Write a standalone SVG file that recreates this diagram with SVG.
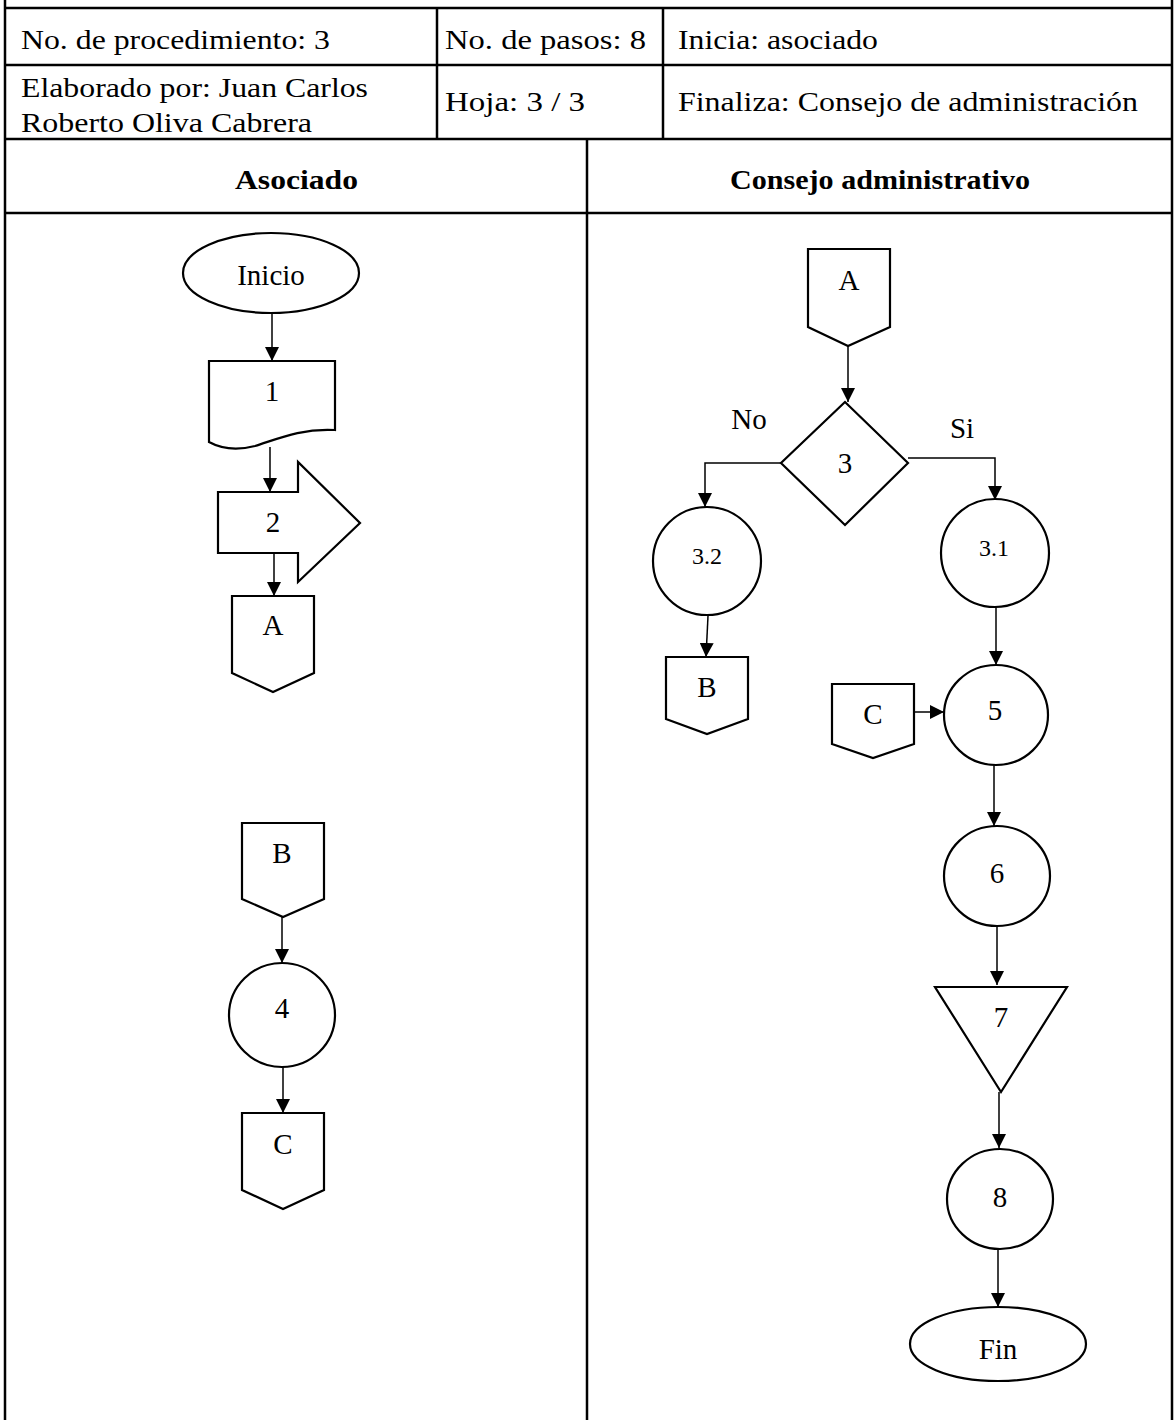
<svg xmlns="http://www.w3.org/2000/svg" width="1175" height="1420" viewBox="0 0 1175 1420">
<style>
.tbl{stroke:#000;stroke-width:2.5;fill:none}
.shape{fill:#fff;stroke:#000;stroke-width:2.2}
.conn{fill:none;stroke:#000;stroke-width:1.5}
.ht{font-family:"Liberation Serif","Times New Roman",serif;font-size:27px;fill:#000}
.hb{font-family:"Liberation Serif","Times New Roman",serif;font-size:27px;font-weight:bold;fill:#000}
.lb{font-family:"Liberation Serif","Times New Roman",serif;font-size:29px;fill:#000;text-anchor:middle}
.sm{font-family:"Liberation Serif","Times New Roman",serif;font-size:24px;fill:#000;text-anchor:middle}
</style>
<defs>
<marker id="arr" markerUnits="userSpaceOnUse" markerWidth="14" markerHeight="14" refX="14" refY="7" orient="auto">
<path d="M0,0 L14,7 L0,14 Z" fill="#000"/>
</marker>
</defs>
<rect width="1175" height="1420" fill="#fff"/>

<g id="table">
<line class="tbl" x1="5" y1="0" x2="5" y2="1420"/>
<line class="tbl" x1="1172" y1="0" x2="1172" y2="1420"/>
<line class="tbl" x1="4" y1="8" x2="1173" y2="8"/>
<line class="tbl" x1="4" y1="65" x2="1173" y2="65"/>
<line class="tbl" x1="4" y1="139" x2="1173" y2="139"/>
<line class="tbl" x1="4" y1="213" x2="1173" y2="213"/>
<line class="tbl" x1="437" y1="8" x2="437" y2="139"/>
<line class="tbl" x1="663" y1="8" x2="663" y2="139"/>
<line class="tbl" x1="587" y1="139" x2="587" y2="1420"/>
<text class="ht" x="21" y="49" textLength="309" lengthAdjust="spacingAndGlyphs">No. de procedimiento: 3</text>
<text class="ht" x="445" y="49" textLength="201" lengthAdjust="spacingAndGlyphs">No. de pasos: 8</text>
<text class="ht" x="678" y="49" textLength="200" lengthAdjust="spacingAndGlyphs">Inicia: asociado</text>
<text class="ht" x="21" y="97" textLength="347" lengthAdjust="spacingAndGlyphs">Elaborado por: Juan Carlos</text>
<text class="ht" x="21" y="132" textLength="291" lengthAdjust="spacingAndGlyphs">Roberto Oliva Cabrera</text>
<text class="ht" x="445" y="111" textLength="140" lengthAdjust="spacingAndGlyphs">Hoja: 3 / 3</text>
<text class="ht" x="678" y="111" textLength="460" lengthAdjust="spacingAndGlyphs">Finaliza: Consejo de administración</text>
<text class="hb" x="235" y="189" textLength="123" lengthAdjust="spacingAndGlyphs">Asociado</text>
<text class="hb" x="730" y="189" textLength="300" lengthAdjust="spacingAndGlyphs">Consejo administrativo</text>
</g>

<g id="connectors">
<line class="conn" x1="272" y1="313" x2="272" y2="361" marker-end="url(#arr)"/>
<line class="conn" x1="270" y1="447" x2="270" y2="492" marker-end="url(#arr)"/>
<line class="conn" x1="274" y1="553" x2="274" y2="596" marker-end="url(#arr)"/>
<line class="conn" x1="282" y1="917" x2="282" y2="963" marker-end="url(#arr)"/>
<line class="conn" x1="283" y1="1067" x2="283" y2="1113" marker-end="url(#arr)"/>
<line class="conn" x1="848" y1="346" x2="848" y2="402" marker-end="url(#arr)"/>
<polyline class="conn" points="781,463 705,463 705,507" marker-end="url(#arr)"/>
<polyline class="conn" points="908,458 995,458 995,500" marker-end="url(#arr)"/>
<line class="conn" x1="708" y1="616" x2="706" y2="657" marker-end="url(#arr)"/>
<line class="conn" x1="996" y1="607" x2="996" y2="665" marker-end="url(#arr)"/>
<line class="conn" x1="914" y1="712" x2="944" y2="712" marker-end="url(#arr)"/>
<line class="conn" x1="994" y1="765" x2="994" y2="826" marker-end="url(#arr)"/>
<line class="conn" x1="997" y1="926" x2="997" y2="985" marker-end="url(#arr)"/>
<line class="conn" x1="999" y1="1092" x2="999" y2="1148" marker-end="url(#arr)"/>
<line class="conn" x1="998" y1="1250" x2="998" y2="1307" marker-end="url(#arr)"/>
</g>

<g id="n-inicio">
<ellipse class="shape" cx="271" cy="273" rx="88" ry="40"/>
<text class="lb" x="271" y="285" font-size="30">Inicio</text>
</g>
<g id="n-1">
<path class="shape" d="M209,361 H335 V430 C300,428 275,440 255,446 C235,451 220,448 209,442 Z"/>
<text class="lb" x="272" y="401">1</text>
</g>
<g id="n-2">
<path class="shape" d="M218,492 H298 V462 L360,523 L298,582 V553 H218 Z"/>
<text class="lb" x="273" y="532">2</text>
</g>
<g id="n-A-left">
<path class="shape" d="M232,596 H314 V673 L273,692 L232,673 Z"/>
<text class="lb" x="273" y="635">A</text>
</g>
<g id="n-B-left">
<path class="shape" d="M242,823 H324 V899 L283,917 L242,899 Z"/>
<text class="lb" x="282" y="863">B</text>
</g>
<g id="n-4">
<ellipse class="shape" cx="282" cy="1015" rx="53" ry="52"/>
<text class="lb" x="282" y="1018">4</text>
</g>
<g id="n-C-left">
<path class="shape" d="M242,1113 H324 V1190 L283,1209 L242,1190 Z"/>
<text class="lb" x="283" y="1154">C</text>
</g>

<g id="n-A-right">
<path class="shape" d="M808,249 H890 V327 L848,346 L808,327 Z"/>
<text class="lb" x="849" y="290">A</text>
</g>
<g id="n-3">
<path class="shape" d="M845,402 L908,463 L845,525 L781,463 Z"/>
<text class="lb" x="845" y="473">3</text>
</g>
<text class="lb" x="749" y="429" font-size="30">No</text>
<text class="lb" x="962" y="438" font-size="30">Si</text>
<g id="n-3-2">
<ellipse class="shape" cx="707" cy="561" rx="54" ry="54"/>
<text class="sm" x="707" y="564">3.2</text>
</g>
<g id="n-3-1">
<ellipse class="shape" cx="995" cy="553" rx="54" ry="54"/>
<text class="sm" x="994" y="556">3.1</text>
</g>
<g id="n-B-right">
<path class="shape" d="M666,657 H748 V719 L707,734 L666,719 Z"/>
<text class="lb" x="707" y="697">B</text>
</g>
<g id="n-C-right">
<path class="shape" d="M832,684 H914 V744 L873,758 L832,744 Z"/>
<text class="lb" x="873" y="724">C</text>
</g>
<g id="n-5">
<ellipse class="shape" cx="996" cy="715" rx="52" ry="50"/>
<text class="lb" x="995" y="720">5</text>
</g>
<g id="n-6">
<ellipse class="shape" cx="997" cy="876" rx="53" ry="50"/>
<text class="lb" x="997" y="883">6</text>
</g>
<g id="n-7">
<path class="shape" d="M935,987 L1067,987 L1001,1092 Z"/>
<text class="lb" x="1001" y="1027">7</text>
</g>
<g id="n-8">
<ellipse class="shape" cx="1000" cy="1199" rx="53" ry="50"/>
<text class="lb" x="1000" y="1207">8</text>
</g>
<g id="n-fin">
<ellipse class="shape" cx="998" cy="1344" rx="88" ry="37"/>
<text class="lb" x="998" y="1359" font-size="30">Fin</text>
</g>
</svg>
